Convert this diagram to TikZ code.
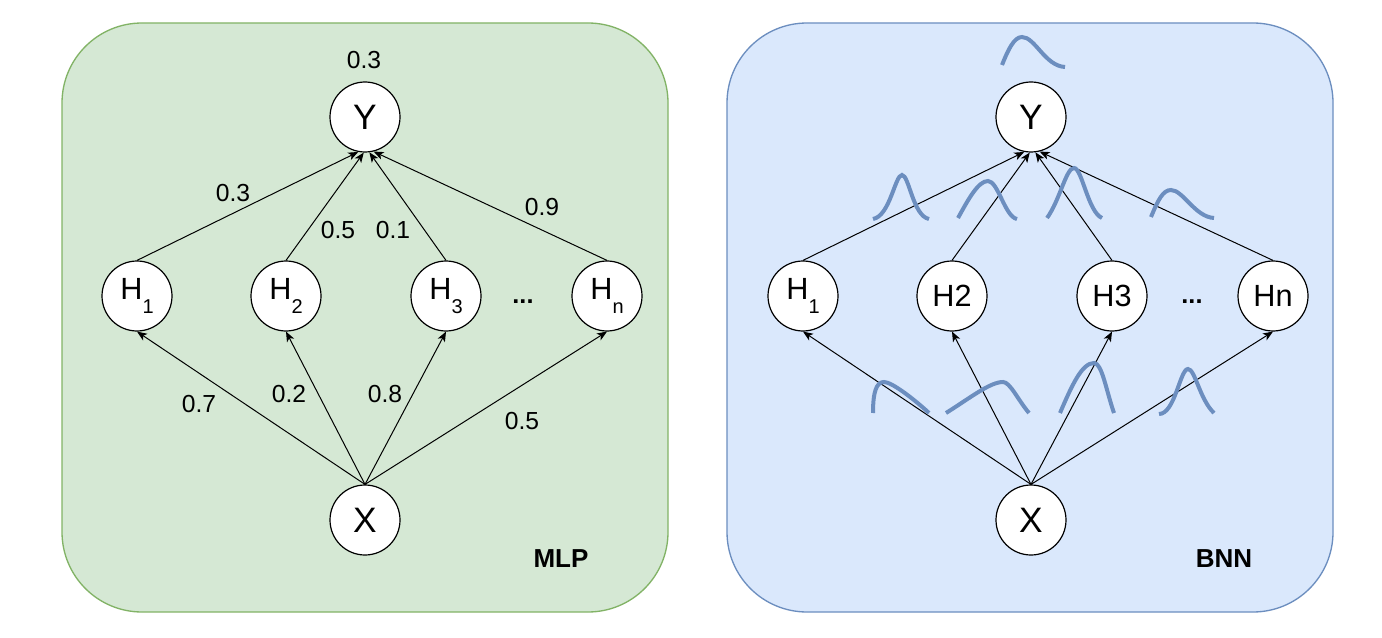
\documentclass[tikz,border=0pt]{standalone}
\usepackage{fontspec}
\setmainfont{Liberation Sans}
\usetikzlibrary{arrows.meta}
\definecolor{gfill}{HTML}{D5E8D4}
\definecolor{gline}{HTML}{82B366}
\definecolor{bfill}{HTML}{DAE8FC}
\definecolor{bline}{HTML}{6C8EBF}
\newcommand\lowsub[1]{\raisebox{-10pt}{\fontsize{15}{17}\selectfont #1}}
\begin{document}
\begin{tikzpicture}[x=0.75pt,y=-0.75pt,
  neuron/.style={circle,draw=black,fill=white,line width=0.9pt,minimum size=52.5pt,inner sep=0pt},
  bigtxt/.style={font=\fontsize{26.5}{30}\selectfont},
  hidtxt/.style={font=\fontsize{23}{26}\selectfont},
  wlabel/.style={font=\fontsize{18.5}{21}\selectfont,inner sep=0pt},
  dotslbl/.style={font=\fontsize{19}{21}\selectfont\bfseries,inner sep=0pt},
  tag/.style={font=\fontsize{19.5}{22}\selectfont\bfseries,inner sep=0pt},
  conn/.style={-{Stealth[length=7.5pt,width=6pt,inset=2pt]},line width=0.75pt},
  gauss/.style={draw=bline,line width=3pt},
  panel/.style={rounded corners=60pt,line width=1pt}]
\useasboundingbox (0,0) rectangle (1382,638);
% panels
\path[panel,fill=gfill,draw=gline] (62,23) rectangle (668,612);
\path[panel,fill=bfill,draw=bline] (727,23) rectangle (1333,612);

% ---------- MLP ----------
\node[neuron,bigtxt] (lY) at (365,117) {Y};
\node[neuron,hidtxt] (lH1) at (137,296) {H\lowsub{1}};
\node[neuron,hidtxt] (lH2) at (286,296) {H\lowsub{2}};
\node[neuron,hidtxt] (lH3) at (446,296) {H\lowsub{3}};
\node[neuron,hidtxt] (lHn) at (607,296) {H\lowsub{n}};
\node[neuron,bigtxt] (lX) at (365,520) {X};
\node[dotslbl] (ldots) at (523,302) {...};

\draw[conn] (lH1.north) -- (lY.259);
\draw[conn] (lH2.north) -- (lY.268);
\draw[conn] (lH3.north) -- (lY.277);
\draw[conn] (lHn.north) -- (lY.284);
\draw[conn] (lX.north) -- (lH1.south);
\draw[conn] (lX.north) -- (lH2.south);
\draw[conn] (lX.north) -- (lH3.south);
\draw[conn] (lX.north) -- (lHn.south);

\node[wlabel] (lwy) at (364,60) {0.3};
\node[wlabel] (lw1) at (233,193) {0.3};
\node[wlabel] (lw2) at (338,230) {0.5};
\node[wlabel] (lw3) at (393,230) {0.1};
\node[wlabel] (lw4) at (542,207) {0.9};
\node[wlabel] (lv1) at (199,404) {0.7};
\node[wlabel] (lv2) at (289,394) {0.2};
\node[wlabel] (lv3) at (385,394) {0.8};
\node[wlabel] (lv4) at (522,421) {0.5};
\node[tag] (mlp) at (561,559) {MLP};

% ---------- BNN ----------
\node[neuron,bigtxt] (rY) at (1031,117) {Y};
\node[neuron,hidtxt] (rH1) at (803,296) {H\lowsub{1}};
\node[neuron,hidtxt] (rH2) at (952,296) {H2};
\node[neuron,hidtxt] (rH3) at (1112,296) {H3};
\node[neuron,hidtxt] (rHn) at (1273,296) {Hn};
\node[neuron,bigtxt] (rX) at (1031,520) {X};
\node[dotslbl] (rdots) at (1192,302) {...};

\draw[conn] (rH1.north) -- (rY.259);
\draw[conn] (rH2.north) -- (rY.268);
\draw[conn] (rH3.north) -- (rY.277);
\draw[conn] (rHn.north) -- (rY.284);
\draw[conn] (rX.north) -- (rH1.south);
\draw[conn] (rX.north) -- (rH2.south);
\draw[conn] (rX.north) -- (rH3.south);
\draw[conn] (rX.north) -- (rHn.south);

\node[tag] (bnn) at (1224,559) {BNN};

% distributions
\path[gauss] (1002,65) .. controls (1008,50) and (1014,37) .. (1022,37) .. controls (1035,37) and (1045,66) .. (1065,67);
\path[gauss] (873,219) .. controls (890,216) and (895,175) .. (902,175) .. controls (909,175) and (913,216) .. (929,219);
\path[gauss] (958,218) .. controls (968,200) and (978,181) .. (988,181) .. controls (998,181) and (1005,217) .. (1017,219);
\path[gauss] (1047,218) .. controls (1060,200) and (1066,168) .. (1074,168) .. controls (1082,168) and (1088,212) .. (1102,218);
\path[gauss] (1151,217) .. controls (1158,200) and (1163,190) .. (1171,190) .. controls (1183,190) and (1195,217) .. (1214,218);
\path[gauss] (873,413) .. controls (873,393) and (876,382) .. (884,382) .. controls (892,382) and (915,400) .. (929,413);
\path[gauss] (946,413) .. controls (970,398) and (990,382) .. (1003,382) .. controls (1010,382) and (1018,400) .. (1029,413);
\path[gauss] (1060,413) .. controls (1072,385) and (1082,363) .. (1094,363) .. controls (1102,363) and (1106,390) .. (1114,413);
\path[gauss] (1159,414) .. controls (1175,414) and (1180,369) .. (1188,369) .. controls (1195,369) and (1200,400) .. (1214,413);
\end{tikzpicture}
\end{document}
